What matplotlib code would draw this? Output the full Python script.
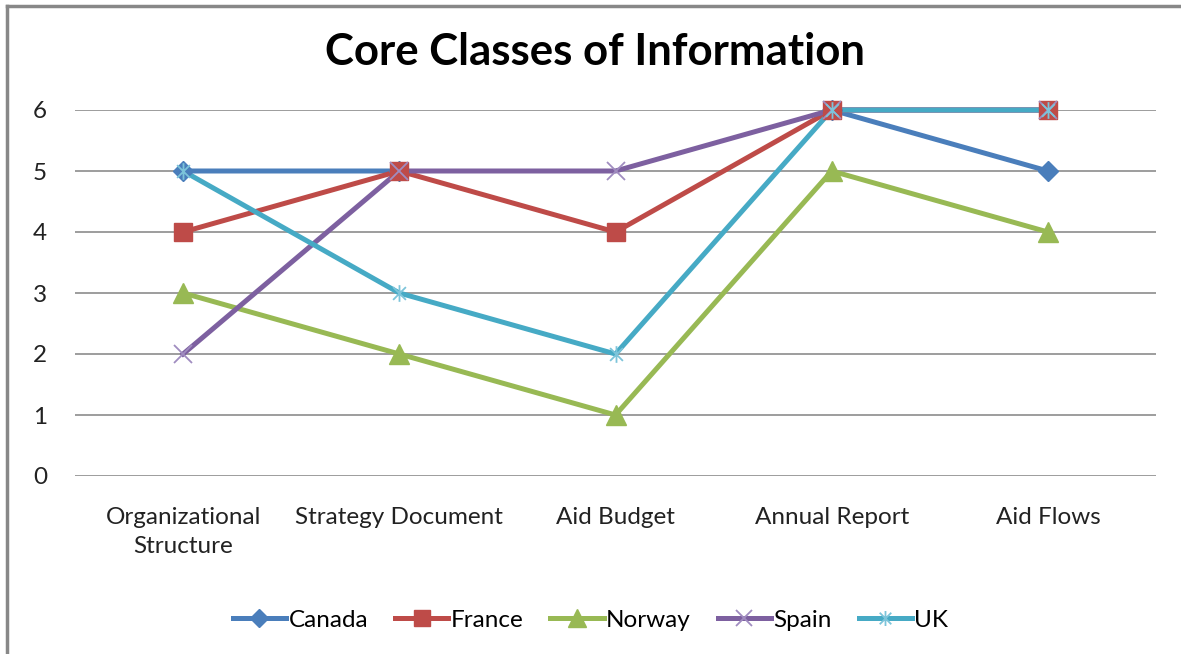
import numpy as np
import matplotlib.pyplot as plt
from matplotlib.path import Path
from matplotlib.lines import Line2D

plt.rcParams['font.family'] = ['Lato', 'DejaVu Sans']

# data
categories = ['Organizational\nStructure', 'Strategy Document', 'Aid Budget', 'Annual Report', 'Aid Flows']
canada = [5, 5, np.nan, 6, 5]
france = [4, 5, 4, 6, 6]
norway = [3, 2, 1, 5, 4]
spain = [2, 5, 5, 6, 6]
uk = [5, 3, 2, 6, 6]

# star marker (x with a vertical bar) like excel
star = Path([(-1, -1), (1, 1), (-1, 1), (1, -1), (0, -1.3), (0, 1.3)],
            [Path.MOVETO, Path.LINETO, Path.MOVETO, Path.LINETO, Path.MOVETO, Path.LINETO])

series = [
    ('Canada', canada, '#4A7EBB', dict(marker='D', markersize=10, mfc='#4A7EBB', mec='#4A7EBB')),
    ('France', france, '#BE4B48', dict(marker='s', markersize=13, mfc='#BE4B48', mec='#BE4B48')),
    ('Norway', norway, '#98B954', dict(marker='^', markersize=14, mfc='#98B954', mec='#98B954')),
    ('Spain', spain, '#7D60A0', dict(marker='x', markersize=13, mec='#A08CC0', mew=1.3)),
    ('UK', uk, '#46AAC5', dict(marker=star, markersize=12, mec='#7CC4DA', mew=1.3)),
]

fig = plt.figure(figsize=(11.81, 6.54), dpi=100)
ax = fig.add_axes([75 / 1181, 1 - 476 / 654, 1081 / 1181, 366 / 654])

x = np.arange(len(categories))
# excel draws all lines first, then the markers
for name, vals, col, mk in series:
    ax.plot(x, vals, color=col, lw=3.6, zorder=3, clip_on=False)
handles = []
for name, vals, col, mk in series:
    ax.plot(x, vals, ls='none', zorder=4, clip_on=False, **mk)
    handles.append(Line2D([], [], color=col, lw=3.6, label=name, **mk))

ax.set_xlim(-0.5, 4.5)
ax.set_ylim(0, 6)
ax.set_yticks(range(0, 7))
ax.yaxis.grid(True, color='#8C8C8C', lw=1.2)
ax.set_axisbelow(True)
for s in ax.spines.values():
    s.set_visible(False)
ax.tick_params(length=0, labelsize=17.5, colors='#222222')
ax.tick_params(axis='y', pad=20)
ax.tick_params(axis='x', pad=22)
ax.set_xticks(x)
ax.set_xticklabels(categories, linespacing=1.5)

fig.text(0.504, 1 - 52 / 654, 'Core Classes of Information', ha='center', va='center',
         fontsize=31.5, fontweight='bold')

fig.legend(handles=handles, loc='center', bbox_to_anchor=(0.5, 1 - 620 / 654), ncol=5,
           frameon=False, fontsize=17.5, handlelength=2.2, handletextpad=0.1,
           columnspacing=1.1, markerscale=0.9)

# chart border (left and top visible)
fig.add_artist(Line2D([7 / 1181, 7 / 1181], [0, 1 - 6 / 654], color='#888888', lw=2.5))
fig.add_artist(Line2D([7 / 1181, 1], [1 - 6 / 654, 1 - 6 / 654], color='#888888', lw=2.5))

fig.savefig('out.png', dpi=100)
